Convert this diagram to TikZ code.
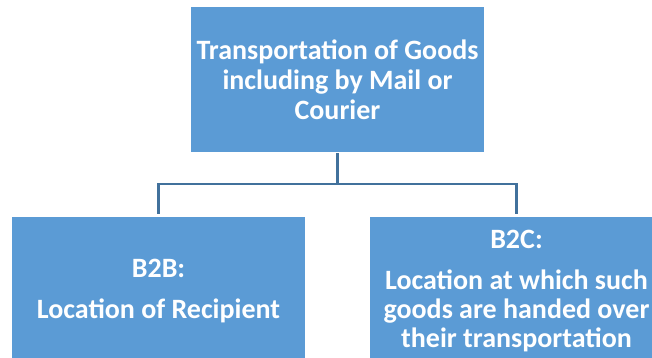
\documentclass[tikz,border=0pt]{standalone}
\usepackage{fontspec}
\setmainfont{Carlito}
\definecolor{boxblue}{HTML}{5B9BD5}
\definecolor{linkblue}{HTML}{41719C}
\begin{document}
\begin{tikzpicture}[x=1pt,y=-1pt,
  orgbox/.style={fill=boxblue, draw=none, text=white, font=\bfseries\fontsize{28}{30}\selectfont,
    align=center, inner sep=0pt, minimum width=293pt},
  link/.style={draw=linkblue, line width=2.2pt}]
\useasboundingbox (0,0) rectangle (652,358);
\clip (0,0) rectangle (652,358);
\node[orgbox, minimum height=145pt] (top) at (337.5,79.5) {Transportation of Goods\\including by Mail or\\Courier};
\node[orgbox, minimum height=148pt] (left) at (158.5,291) {B2B:\\[11pt]Location of Recipient};
\node[orgbox, minimum height=148pt] (right) at (516.5,291) {B2C:\\[11pt]Location at which such\\[-1pt]goods are handed over\\[-1pt]their transportation};
\coordinate (mid) at (337.5,184);
\draw[link] ([yshift=-1pt]top.south) -- (mid);
\draw[link, shorten >=3pt] (mid) -| (left.north);
\draw[link, shorten >=3pt] (mid) -| (right.north);
\end{tikzpicture}
\end{document}
